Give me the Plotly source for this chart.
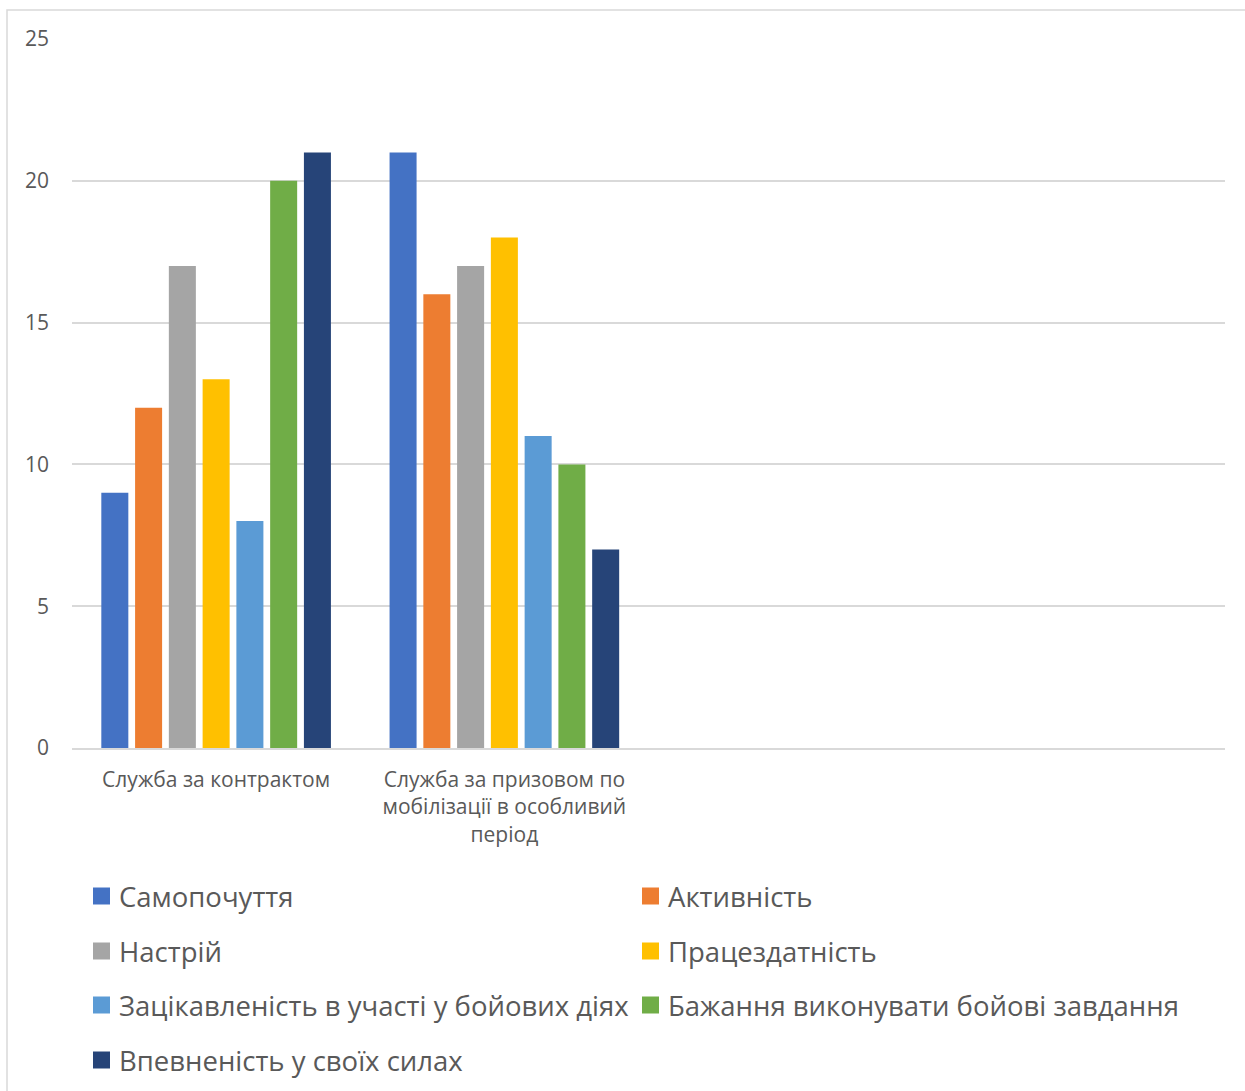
import plotly.graph_objects as go

# Categories (two service types plus two empty slots on the axis)
categories = [
    "Служба за контрактом",
    "Служба за призовом по<br>мобілізації в особливий<br>період",
    " ",
    "  ",
]

series_names = [
    "Самопочуття",
    "Активність",
    "Настрій",
    "Працездатність",
    "Зацікавленість в участі у бойових діях",
    "Бажання виконувати бойові завдання",
    "Впевненість у своїх силах",
]

contract_values = [9, 12, 17, 13, 8, 20, 21]
mobilization_values = [21, 16, 17, 18, 11, 10, 7]

colors = ["#4472C4", "#ED7D31", "#A5A5A5", "#FFC000", "#5B9BD5", "#70AD47", "#264478"]

y_ticks = [0, 5, 10, 15, 20, 25]

FONT = "Open Sans"
TEXT_COLOR = "#595959"

W, H = 1245, 1091
M_LEFT, M_RIGHT, M_TOP, M_BOTTOM = 72, 20, 39, 343
PLOT_W = W - M_LEFT - M_RIGHT
PLOT_H = H - M_TOP - M_BOTTOM


def px_x(px):
    return (px - M_LEFT) / PLOT_W


def px_y(py):
    return (H - M_BOTTOM - py) / PLOT_H


fig = go.Figure()
for i, name in enumerate(series_names):
    fig.add_trace(go.Bar(
        x=categories,
        y=[contract_values[i], mobilization_values[i], None, None],
        name=name,
        marker=dict(color=colors[i], line=dict(width=0)),
        showlegend=False,
    ))

# Legend drawn as squares and labels in two columns beneath the axis
legend_cols = [93, 642]
legend_rows = [896, 951, 1005, 1060]
shapes = []
annotations = []
for i, name in enumerate(series_names):
    cx = legend_cols[i % 2]
    cy = legend_rows[i // 2]
    shapes.append(dict(
        type="rect", xref="paper", yref="paper",
        x0=px_x(cx), x1=px_x(cx + 17), y0=px_y(cy + 8.5), y1=px_y(cy - 8.5),
        fillcolor=colors[i], line=dict(width=0),
    ))
    annotations.append(dict(
        text=name, xref="paper", yref="paper",
        x=px_x(cx + 24), y=px_y(cy), xanchor="left", yanchor="middle",
        showarrow=False, font=dict(family=FONT, size=27.5, color=TEXT_COLOR),
    ))

# Chart frame
shapes.append(dict(
    type="rect", xref="paper", yref="paper",
    x0=px_x(7), x1=px_x(1260), y0=px_y(1100), y1=px_y(10),
    line=dict(color="#D9D9D9", width=1.5), fillcolor="rgba(0,0,0,0)", layer="below",
))

fig.update_layout(
    width=W, height=H,
    margin=dict(l=M_LEFT, r=M_RIGHT, t=M_TOP, b=M_BOTTOM, autoexpand=False),
    paper_bgcolor="white", plot_bgcolor="white",
    barmode="group", bargap=0.18, bargroupgap=0.2,
    font=dict(family=FONT, color=TEXT_COLOR),
    shapes=shapes, annotations=annotations,
    showlegend=False,
)
fig.update_xaxes(
    type="category", categoryorder="array", categoryarray=categories,
    range=[-0.5, 3.5], showgrid=False, showline=True,
    linecolor="#D9D9D9", linewidth=1.5, ticks="",
    tickfont=dict(family=FONT, size=21, color=TEXT_COLOR),
    ticklabelstandoff=12,
)
fig.update_yaxes(
    range=[0, 25], tickvals=y_ticks, showgrid=True, gridcolor="#D9D9D9",
    gridwidth=1.5, zeroline=False, showline=False, ticks="",
    tickfont=dict(family=FONT, size=21, color=TEXT_COLOR),
    ticklabelstandoff=22,
)

fig.write_html("out.html")
